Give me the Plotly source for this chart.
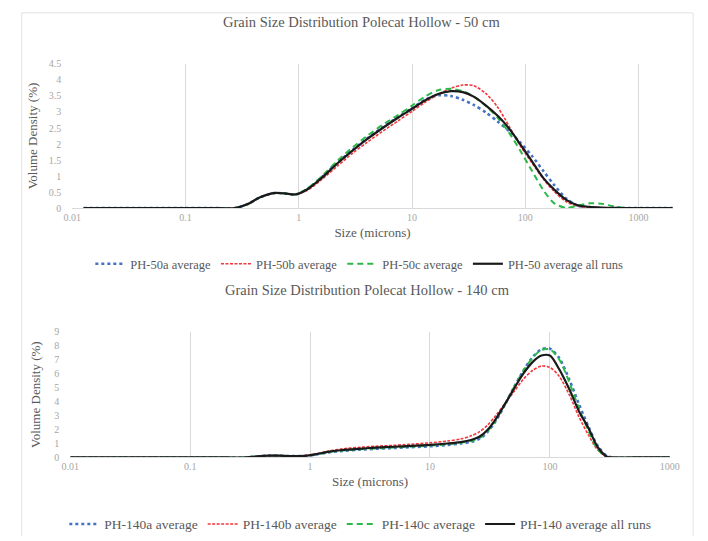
import plotly.graph_objects as go

# ---------------- data: PH-50 (top chart) ----------------
sizes_50 = [0.0126, 0.05, 0.1, 0.2, 0.27, 0.35, 0.45, 0.6, 0.75, 0.94, 1.2, 1.6, 2.2, 3, 4, 5.5, 7.5,
            10, 13, 17, 22, 28, 35, 45, 57, 72, 90, 115, 145, 180, 230, 290, 370, 470, 600, 800, 2000]
ph50a = [0, 0, 0, 0, 0, 0.12, 0.33, 0.47, 0.46, 0.43, 0.6, 0.97, 1.42, 1.82, 2.17, 2.52, 2.84,
         3.12, 3.38, 3.52, 3.5, 3.38, 3.22, 2.98, 2.7, 2.4, 2.05, 1.62, 1.15, 0.72, 0.3, 0.08, 0.02, 0, 0, 0, 0]
ph50b = [0, 0, 0, 0, 0, 0.12, 0.33, 0.47, 0.46, 0.43, 0.57, 0.9, 1.32, 1.72, 2.05, 2.4, 2.72,
         3.02, 3.3, 3.55, 3.74, 3.84, 3.82, 3.57, 3.15, 2.55, 1.95, 1.4, 0.9, 0.52, 0.2, 0.06, 0.03, 0.01, 0, 0, 0]
ph50c = [0, 0, 0, 0, 0, 0.12, 0.33, 0.47, 0.46, 0.43, 0.62, 1.0, 1.48, 1.9, 2.25, 2.6, 2.9,
         3.2, 3.48, 3.68, 3.72, 3.65, 3.48, 3.18, 2.82, 2.35, 1.8, 1.15, 0.55, 0.15, 0.01, 0.08, 0.15, 0.14, 0.06, 0, 0]
ph50avg = [0, 0, 0, 0, 0, 0.12, 0.33, 0.47, 0.46, 0.43, 0.6, 0.95, 1.4, 1.8, 2.15, 2.5, 2.82,
           3.1, 3.36, 3.56, 3.65, 3.62, 3.48, 3.2, 2.88, 2.48, 2.0, 1.45, 0.93, 0.58, 0.26, 0.09, 0.04, 0.02, 0.01, 0, 0]

# ---------------- data: PH-140 (bottom chart) ----------------
sizes_140 = [0.01, 0.05, 0.1, 0.2, 0.28, 0.35, 0.45, 0.55, 0.7, 0.9, 1.1, 1.4, 1.8, 2.5, 3.5, 5, 7,
             10, 14, 18, 22, 26, 30, 35, 42, 50, 60, 72, 85, 100, 120, 145, 175, 210, 250, 300, 350, 500, 1000]
ph140a = [0, 0, 0, 0, 0, 0.07, 0.13, 0.13, 0.1, 0.11, 0.2, 0.35, 0.45, 0.55, 0.62, 0.68, 0.74,
          0.8, 0.9, 1.0, 1.12, 1.35, 1.8, 2.55, 3.75, 5.0, 6.2, 7.2, 7.75, 7.8, 7.1, 5.6, 3.8, 2.2, 0.85, 0.1, 0, 0, 0]
ph140b = [0, 0, 0, 0, 0, 0.07, 0.13, 0.13, 0.1, 0.13, 0.25, 0.45, 0.6, 0.72, 0.8, 0.87, 0.95,
          1.05, 1.18, 1.32, 1.55, 1.85, 2.3, 2.95, 3.85, 4.7, 5.6, 6.25, 6.55, 6.45, 5.8, 4.5, 2.9, 1.6, 0.55, 0.05, 0, 0, 0]
ph140c = [0, 0, 0, 0, 0, 0.07, 0.13, 0.13, 0.1, 0.11, 0.21, 0.38, 0.48, 0.58, 0.65, 0.72, 0.78,
          0.85, 0.95, 1.05, 1.18, 1.4, 1.85, 2.6, 3.8, 5.0, 6.2, 7.15, 7.7, 7.75, 7.0, 5.4, 3.5, 1.9, 0.6, 0.0, 0, 0, 0]
ph140avg = [0, 0, 0, 0, 0, 0.07, 0.13, 0.13, 0.1, 0.12, 0.22, 0.4, 0.52, 0.62, 0.7, 0.77, 0.83,
            0.9, 1.0, 1.1, 1.25, 1.5, 1.95, 2.7, 3.8, 4.9, 6.0, 6.85, 7.3, 7.3, 6.3, 4.9, 3.3, 2.1, 0.75, 0.05, 0, 0, 0]

x_tickvals = [0.01, 0.1, 1, 10, 100, 1000]
x_ticktext = ["0.01", "0.1", "1", "10", "100", "1000"]
y50_ticks = [0, 0.5, 1, 1.5, 2, 2.5, 3, 3.5, 4, 4.5]
y140_ticks = [0, 1, 2, 3, 4, 5, 6, 7, 8, 9]

W, H = 708, 541
FONT = "Liberation Serif, DejaVu Serif, serif"
BLUE, RED, GREEN, BLACK = "#4472C4", "#F2363C", "#2DB84A", "#1a1a1a"


def px(x):
    return x / W


def py(y):
    return 1 - y / H


fig = go.Figure()

styles = [
    (BLUE, "dot", 2.6),
    (RED, "3px,1.5px", 1.6),
    (GREEN, "6px,4px", 2.0),
    (BLACK, "solid", 2.2),
]

top_series = [("PH-50a average", ph50a), ("PH-50b average", ph50b),
              ("PH-50c average", ph50c), ("PH-50 average all runs", ph50avg)]
for (name, vals), (c, d, w) in zip(top_series, styles):
    fig.add_trace(go.Scatter(x=sizes_50, y=vals, name=name, mode="lines",
                             line=dict(color=c, dash=d, width=w, shape="spline", smoothing=0.8),
                             xaxis="x", yaxis="y", legend="legend"))

bot_series = [("PH-140a average", ph140a), ("PH-140b average", ph140b),
              ("PH-140c average", ph140c), ("PH-140 average all runs", ph140avg)]
for (name, vals), (c, d, w) in zip(bot_series, styles):
    fig.add_trace(go.Scatter(x=sizes_140, y=vals, name=name, mode="lines",
                             line=dict(color=c, dash=d, width=w, shape="spline", smoothing=0.8),
                             xaxis="x2", yaxis="y2", legend="legend2"))

tickfont = dict(family=FONT, size=10, color="#a6a6a6")
titlefont = dict(family=FONT, size=13, color="#595959")
grid = "#d9d9d9"

common_x = dict(type="log", tickvals=x_tickvals, ticktext=x_ticktext, showgrid=True, gridcolor=grid,
                gridwidth=1, showline=True, linecolor=grid, linewidth=1, ticks="", tickfont=tickfont,
                zeroline=False, title=dict(text="Size (microns)", font=titlefont, standoff=5))

fig.update_layout(
    width=W, height=H,
    margin=dict(l=0, r=0, t=0, b=0),
    paper_bgcolor="white", plot_bgcolor="white",
    xaxis=dict(common_x, domain=[px(65), px(682)], range=[-2, 3.301], anchor="y"),
    yaxis=dict(domain=[py(207), py(60)], range=[0, 4.5], tickvals=y50_ticks,
               ticktext=[("%g" % v) for v in y50_ticks], showgrid=False, showline=False, ticks="",
               tickfont=tickfont, zeroline=False, ticklabelstandoff=10, anchor="x",
               title=dict(text="Volume Density (%)", font=titlefont, standoff=8)),
    xaxis2=dict(common_x, domain=[px(63), px(679)], range=[-2, 3], anchor="y2"),
    yaxis2=dict(domain=[py(461), py(333)], range=[0, 9], tickvals=y140_ticks,
                showgrid=False, showline=False, ticks="", tickfont=tickfont, zeroline=False,
                ticklabelstandoff=10, anchor="x2",
                title=dict(text="Volume Density (%)", font=titlefont, standoff=10)),
    legend=dict(orientation="h", x=px(360), xanchor="center", y=py(264), yanchor="middle",
                font=dict(family=FONT, size=12.5, color="#595959"), bgcolor="rgba(0,0,0,0)",
                itemwidth=30, tracegroupgap=0),
    legend2=dict(orientation="h", x=px(361), xanchor="center", y=py(529), yanchor="middle",
                 font=dict(family=FONT, size=13.5, color="#595959"), bgcolor="rgba(0,0,0,0)",
                 itemwidth=30, tracegroupgap=0),
    annotations=[
        dict(text="Grain Size Distribution Polecat Hollow - 50 cm", x=px(362), y=py(17),
             xref="paper", yref="paper", showarrow=False, xanchor="center", yanchor="middle",
             font=dict(family=FONT, size=14.5, color="#595959")),
        dict(text="Grain Size Distribution Polecat Hollow - 140 cm", x=px(368), y=py(290),
             xref="paper", yref="paper", showarrow=False, xanchor="center", yanchor="middle",
             font=dict(family=FONT, size=14.5, color="#595959")),
    ],
    shapes=[
        dict(type="line", xref="paper", yref="paper", x0=px(13), x1=px(13), y0=py(8), y1=py(541),
             line=dict(color="#e3e3e3", width=1)),
        dict(type="line", xref="paper", yref="paper", x0=px(703), x1=px(703), y0=py(8), y1=py(541),
             line=dict(color="#e3e3e3", width=1)),
        dict(type="line", xref="paper", yref="paper", x0=px(13), x1=px(703), y0=py(8), y1=py(8),
             line=dict(color="#e3e3e3", width=1)),
    ],
)

fig.write_html("out.html", config={"displayModeBar": False},
               post_script="document.body.style.margin='0';document.body.style.overflow='hidden';")
